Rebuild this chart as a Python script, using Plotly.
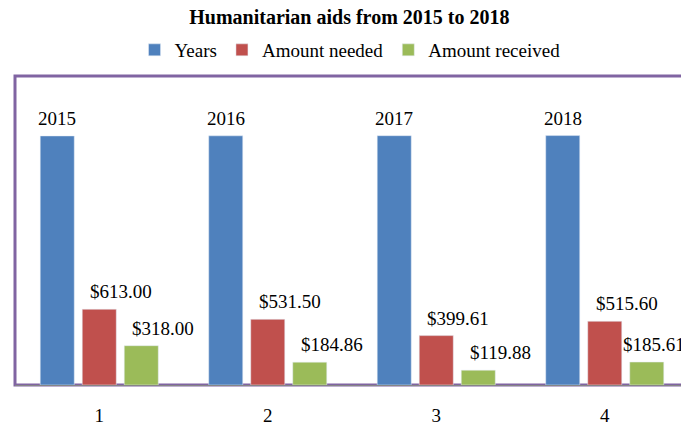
import plotly.graph_objects as go

# Humanitarian aid figures per year
categories = ["1", "2", "3", "4"]
years = [2015, 2016, 2017, 2018]
amount_needed = [613.00, 531.50, 399.61, 515.60]
amount_received = [318.00, 184.86, 119.88, 185.61]

BLUE = "#4F81BD"
RED = "#C0504D"
GREEN = "#9BBB59"
PURPLE = "#8064A2"
FONT = "Liberation Serif, Times New Roman, serif"

fig = go.Figure()
fig.add_trace(go.Bar(name="Years", x=categories, y=years, marker_color=BLUE))
fig.add_trace(go.Bar(name="Amount needed", x=categories, y=amount_needed, marker_color=RED))
fig.add_trace(go.Bar(name="Amount received", x=categories, y=amount_received, marker_color=GREEN))

# value labels placed at each bar's position in category units
bargap = 0.252
slot = (1 - bargap) / 3
annotations = []
for series_idx, (vals, fmt, shift) in enumerate([
    (years, "{:.0f}", 0),
    (amount_needed, "${:,.2f}", 22),
    (amount_received, "${:,.2f}", 22),
]):
    for i, v in enumerate(vals):
        # the rightmost label is pulled in toward the plot edge
        dx = 7 if (series_idx == 2 and i == len(vals) - 1) else shift
        annotations.append(dict(
            x=i + (series_idx - 1) * slot, y=v, xref="x", yref="y",
            text=fmt.format(v), showarrow=False,
            xanchor="center", yanchor="bottom", xshift=dx, yshift=5,
            font=dict(family=FONT, size=19, color="black"),
        ))

fig.update_layout(
    width=681, height=426,
    margin=dict(l=15, r=0, t=76, b=41),
    paper_bgcolor="white", plot_bgcolor="white",
    barmode="group", bargap=bargap, bargroupgap=0.19,
    font=dict(family=FONT, size=19, color="black"),
    title=dict(
        text="<b>Humanitarian aids from 2015 to 2018</b>",
        x=0.513, xref="container", xanchor="center",
        y=1 - 17 / 426, yref="container", yanchor="middle",
        font=dict(family=FONT, size=20, color="black"),
    ),
    legend=dict(
        orientation="h", x=0.514, xref="container", xanchor="center",
        y=1 - 50 / 426, yref="container", yanchor="middle",
        font=dict(family=FONT, size=19, color="black"),
        itemwidth=30, tracegroupgap=0,
    ),
    annotations=annotations,
    shapes=[dict(
        type="rect", xref="paper", yref="paper",
        x0=0, x1=1.05, y0=0, y1=1,
        line=dict(color=PURPLE, width=3), layer="below",
    )],
)
fig.update_xaxes(
    type="category", range=[-0.5, 3.4525],
    showline=True, linecolor="#868686", linewidth=1,
    showgrid=False, zeroline=False, ticks="",
    ticklabelstandoff=13,
    tickfont=dict(family=FONT, size=19, color="black"),
)
fig.update_yaxes(
    range=[0, 2500], showticklabels=False, showgrid=False,
    zeroline=False, showline=False, ticks="",
)

fig.write_html("out.html")
